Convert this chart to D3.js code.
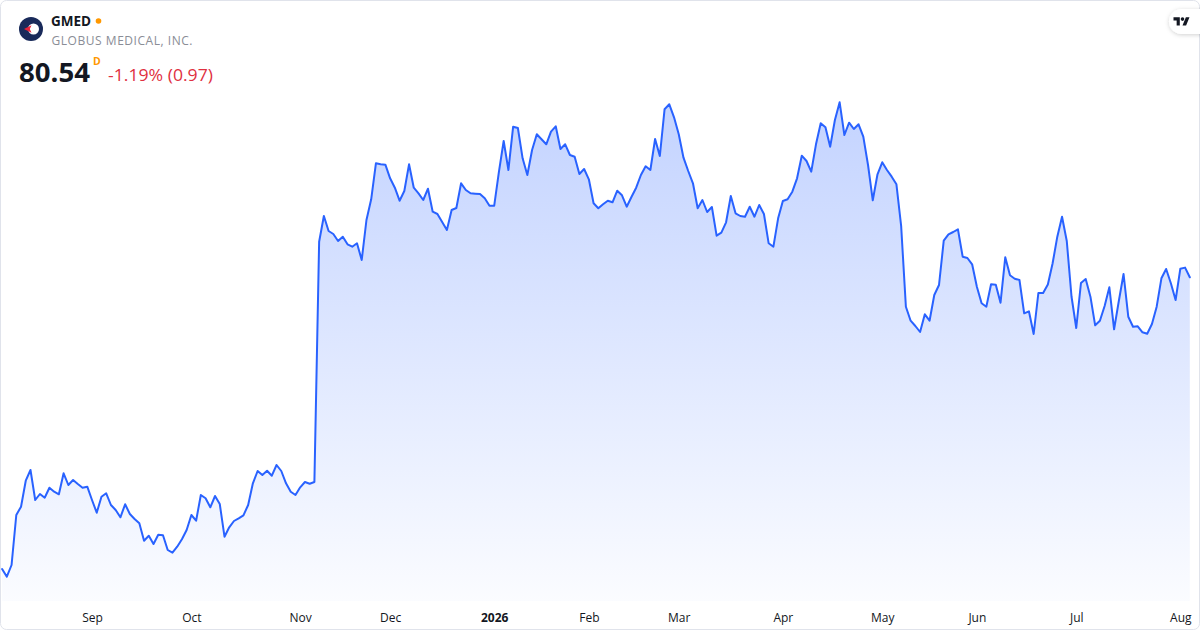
<!DOCTYPE html>
<html>
<head>
<meta charset="utf-8">
<script src="https://cdn.jsdelivr.net/npm/d3@7"></script>
<style>
  html, body { margin: 0; padding: 0; background: #ffffff; }
  svg { display: block; font-family: "Open Sans", "Noto Sans", sans-serif; }
</style>
</head>
<body>
<svg id="chart" width="1200" height="630"></svg>
<script>
// ---- Data (daily closes, Aug 5 2025 -> Aug 5 2026, trading days) ----
const symbol = "GMED";
const companyName = "GLOBUS MEDICAL, INC.";
const lastPrice = "80.54";
const changeText = "-1.19% (0.97)";
const intervalLabel = "D";

const tickLabels = ["Sep", "Oct", "Nov", "Dec", "2026", "Feb", "Mar", "Apr", "May", "Jun", "Jul", "Aug"];
const tickIndex  = [19, 40, 63, 82, 104, 124, 143, 165, 186, 206, 227, 249];
const boldTicks  = ["2026"];

const closes = [
  51.37, 50.60, 51.77, 56.77, 57.60, 60.20, 61.27, 58.27, 58.87, 58.50,
  59.50, 59.10, 58.84, 60.94, 59.77, 60.27, 59.87, 59.50, 59.60, 58.27,
  57.00, 58.60, 58.94, 57.77, 57.27, 56.54, 57.84, 56.87, 56.37, 55.94,
  54.20, 54.70, 53.87, 54.80, 54.74, 53.27, 53.00, 53.60, 54.34, 55.27,
  56.77, 56.20, 58.77, 58.44, 57.54, 58.67, 57.87, 54.60, 55.54, 56.17,
  56.44, 56.74, 57.77, 59.94, 61.17, 60.77, 61.20, 60.70, 61.77, 61.17,
  59.94, 59.10, 58.77, 59.54, 60.07, 59.90, 60.07, 84.10, 86.67, 85.17,
  84.87, 84.17, 84.60, 83.84, 83.60, 83.94, 82.27, 86.27, 88.34, 91.94,
  91.84, 91.80, 90.44, 89.50, 88.20, 89.17, 91.84, 89.50, 88.94, 88.27,
  89.40, 87.10, 86.87, 86.07, 85.27, 87.27, 87.47, 89.94, 89.27, 88.94,
  88.90, 88.87, 88.44, 87.70, 87.70, 91.10, 94.17, 91.27, 95.60, 95.47,
  92.44, 90.77, 93.27, 94.84, 94.34, 93.84, 95.10, 95.64, 93.37, 93.84,
  92.77, 92.60, 90.87, 91.37, 90.34, 87.94, 87.44, 87.84, 88.20, 88.04,
  89.20, 88.74, 87.60, 88.57, 89.50, 90.77, 91.64, 91.27, 94.37, 92.67,
  97.34, 97.84, 96.54, 94.84, 92.50, 91.17, 89.94, 87.44, 88.27, 87.07,
  87.57, 84.70, 85.00, 86.04, 88.67, 86.94, 86.67, 86.60, 87.60, 86.60,
  87.77, 86.87, 83.94, 83.60, 86.44, 88.17, 88.34, 89.10, 90.44, 92.70,
  92.17, 91.10, 93.84, 95.94, 95.54, 93.60, 96.27, 98.04, 94.77, 96.00,
  95.37, 95.84, 94.60, 91.77, 88.24, 90.84, 92.04, 91.27, 90.60, 89.84,
  85.67, 77.60, 76.20, 75.67, 75.07, 76.84, 76.20, 78.77, 79.77, 84.20,
  84.84, 85.07, 85.34, 82.60, 82.47, 81.84, 79.60, 77.94, 77.60, 79.84,
  79.80, 78.00, 82.54, 80.74, 80.40, 80.27, 76.94, 77.14, 74.87, 78.97,
  78.97, 79.82, 81.92, 84.60, 86.60, 84.17, 78.62, 75.47, 79.97, 80.37,
  78.60, 75.74, 76.20, 77.67, 79.54, 75.34, 78.17, 80.87, 76.60, 75.60,
  75.64, 75.04, 74.90, 75.87, 77.60, 80.44, 81.37, 79.94, 78.27, 81.40,
  81.51, 80.54
];

// ---- Layout ----
const W = 1200, H = 630;
const plot = { left: 2.1, right: 1189.8, top: 102.3, bottom: 576.7, base: 601 };

const svg = d3.select("#chart");
const defs = svg.append("defs");

const grad = defs.append("linearGradient")
  .attr("id", "areaGrad")
  .attr("gradientUnits", "userSpaceOnUse")
  .attr("x1", 0).attr("x2", 0)
  .attr("y1", plot.top).attr("y2", plot.base);
grad.append("stop").attr("offset", "0%").attr("stop-color", "#2962ff").attr("stop-opacity", 0.28);
grad.append("stop").attr("offset", "100%").attr("stop-color", "#2962ff").attr("stop-opacity", 0.02);

const shadow = defs.append("filter").attr("id", "pillShadow")
  .attr("x", "-50%").attr("y", "-50%").attr("width", "200%").attr("height", "200%");
shadow.append("feDropShadow").attr("dx", 0).attr("dy", 1).attr("stdDeviation", 2)
  .attr("flood-color", "#000").attr("flood-opacity", 0.18);

// card
svg.append("rect")
  .attr("x", 0.5).attr("y", 0.5).attr("width", W - 1).attr("height", H - 1)
  .attr("rx", 6).attr("fill", "#ffffff").attr("stroke", "#e0e3eb");

// ---- Scales ----
const x = d3.scaleLinear().domain([0, closes.length - 1]).range([plot.left, plot.right]);
const y = d3.scaleLinear().domain(d3.extent(closes)).range([plot.bottom, plot.top]);

const area = d3.area()
  .x((d, i) => x(i))
  .y0(plot.base)
  .y1(d => y(d));
const line = d3.line()
  .x((d, i) => x(i))
  .y(d => y(d));

svg.append("path").datum(closes)
  .attr("d", area)
  .attr("fill", "url(#areaGrad)");

svg.append("path").datum(closes)
  .attr("d", line)
  .attr("fill", "none")
  .attr("stroke", "#2962ff")
  .attr("stroke-width", 2)
  .attr("stroke-linejoin", "round")
  .attr("stroke-linecap", "round");

// ---- X axis ----
const xAxis = d3.axisBottom(x)
  .tickValues(tickIndex)
  .tickFormat((d, i) => tickLabels[i])
  .tickSize(0)
  .tickPadding(0);

const gx = svg.append("g").attr("transform", "translate(0,605)").call(xAxis);
gx.select(".domain").remove();
gx.selectAll("text")
  .attr("y", 17)
  .attr("dy", 0)
  .attr("fill", "#131722")
  .attr("font-size", 12)
  .attr("font-family", "'Open Sans', sans-serif")
  .attr("font-weight", (d, i) => boldTicks.includes(tickLabels[i]) ? 700 : 400);

// ---- Header ----
const logo = svg.append("g");
logo.append("circle").attr("cx", 31).attr("cy", 29).attr("r", 12).attr("fill", "#192a5a");
logo.append("circle").attr("cx", 33.5).attr("cy", 29).attr("r", 5.5).attr("fill", "#ffffff");
logo.append("path")
  .attr("d", "M31.5,25.2 L24,29 L31.5,32.8 L29.8,29 Z")
  .attr("fill", "#e8233a");

svg.append("text")
  .attr("x", 51).attr("y", 26)
  .attr("font-size", 13.5).attr("font-weight", 700).attr("fill", "#131722")
  .text(symbol);
svg.append("circle").attr("cx", 98.5).attr("cy", 21).attr("r", 2.8).attr("fill", "#ff9800");

svg.append("text")
  .attr("x", 51.5).attr("y", 45)
  .attr("font-size", 12).attr("fill", "#8a8d96")
  .attr("textLength", 141).attr("lengthAdjust", "spacing")
  .text(companyName);

svg.append("text")
  .attr("x", 19).attr("y", 81.5)
  .attr("font-size", 27.5).attr("font-weight", 700).attr("fill", "#131722")
  .attr("textLength", 71).attr("lengthAdjust", "spacingAndGlyphs")
  .text(lastPrice);
svg.append("text")
  .attr("x", 93).attr("y", 65)
  .attr("font-size", 10.5).attr("font-weight", 700).attr("fill", "#ff9800")
  .text(intervalLabel);
svg.append("text")
  .attr("x", 108).attr("y", 80.5)
  .attr("font-size", 17).attr("fill", "#e0303f")
  .attr("textLength", 105).attr("lengthAdjust", "spacingAndGlyphs")
  .text(changeText);

// TradingView badge
svg.append("rect")
  .attr("x", 1169).attr("y", 9).attr("width", 52).attr("height", 25).attr("rx", 12.5)
  .attr("fill", "#ffffff").attr("filter", "url(#pillShadow)");
svg.append("path")
  .attr("transform", "translate(1173.5,15.5) scale(0.45)")
  .attr("d", "M14 22H7V11H0V4h14v18zM28 22h-8l7.5-18h8L28 22z")
  .attr("fill", "#131722");
svg.append("circle")
  .attr("cx", 1173.5 + 20 * 0.45).attr("cy", 15.5 + 8 * 0.45).attr("r", 4 * 0.45)
  .attr("fill", "#131722");
</script>
</body>
</html>
